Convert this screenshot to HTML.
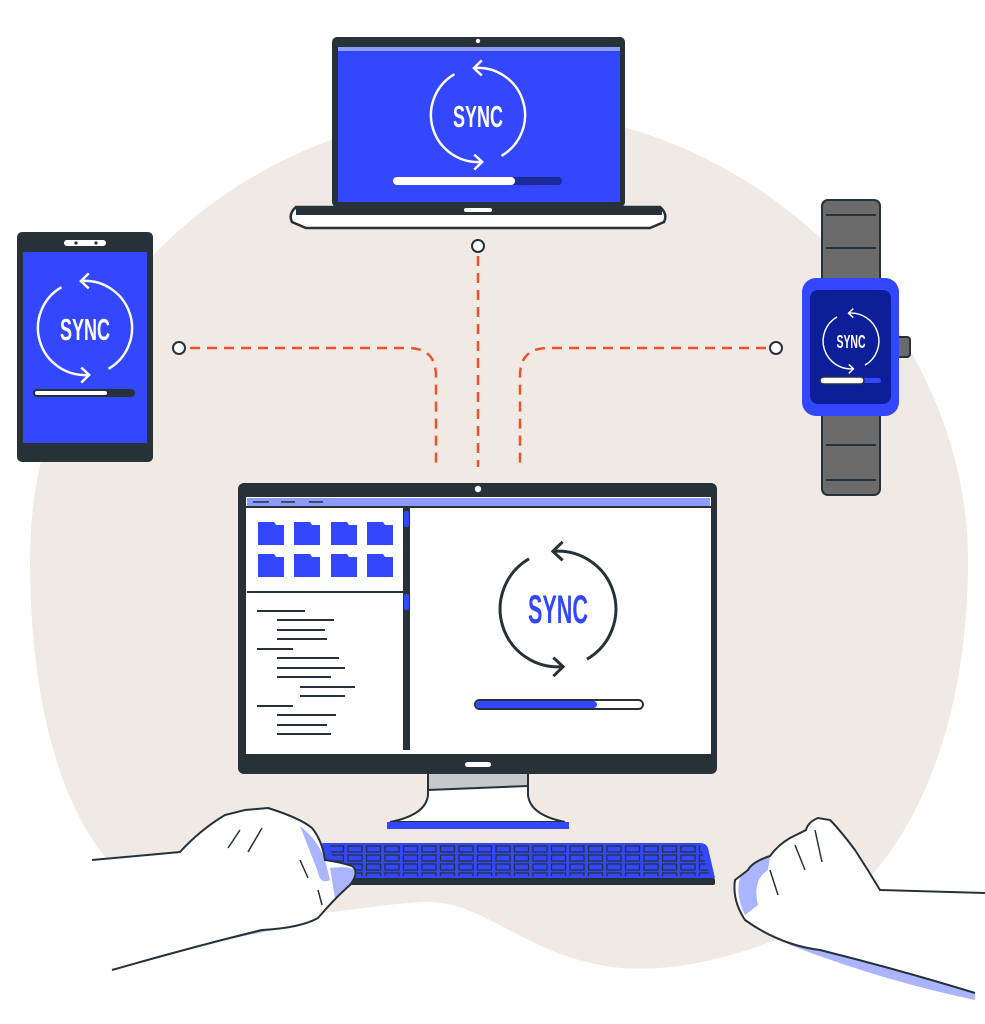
<!DOCTYPE html>
<html><head><meta charset="utf-8"><style>html,body{margin:0;padding:0;background:#fff}svg{display:block}</style></head>
<body>
<svg width="985" height="1024" viewBox="0 0 985 1024" xmlns="http://www.w3.org/2000/svg">
<defs>
<symbol id="sync" viewBox="-60 -60 120 120" overflow="visible">
<path d="M -4.4 -49.8 A 50 50 0 0 1 25 43.3" fill="none" stroke="currentColor" stroke-width="2.6"/>
<path d="M 4.4 49.8 A 50 50 0 0 1 -25 -43.3" fill="none" stroke="currentColor" stroke-width="2.6"/>
<path d="M 4 -58 L -4.4 -49.8 L 4 -42" fill="none" stroke="currentColor" stroke-width="2.6"/>
<path d="M -4 58 L 4.4 49.8 L -4 42" fill="none" stroke="currentColor" stroke-width="2.6"/>
</symbol>
<pattern id="keys" x="328" y="845" width="18.5" height="9" patternUnits="userSpaceOnUse">
<rect x="1.5" y="1" width="14" height="6" fill="#3347ff" stroke="#263238" stroke-width="1.3"/>
</pattern>
</defs>
<path d="M 30 560 C 30 300, 250 110, 500 110 C 760 110, 968 330, 968 560 C 968 760, 890 890, 800 930 C 720 965, 650 975, 600 965 C 520 950, 480 898, 420 902 C 330 908, 250 935, 160 900 C 70 860, 30 720, 30 560 Z" fill="#f0e9e4"/>
<g fill="none" stroke="#f0522c" stroke-width="2.5" stroke-dasharray="10 7">
<path d="M 190 348 L 408 348 Q 436 348 436 376 L 436 467"/>
<path d="M 478 256 L 478 467"/>
<path d="M 766 348 L 548 348 Q 520 348 520 376 L 520 467"/>
</g>
<g fill="#fff" stroke="#263238" stroke-width="2">
<circle cx="179" cy="348" r="6"/><circle cx="478" cy="246" r="6"/><circle cx="776" cy="348" r="6"/>
</g>
<!-- laptop -->
<rect x="332" y="37" width="293" height="170" rx="5" fill="#263238"/>
<rect x="338" y="47" width="282" height="155" fill="#3347ff"/>
<rect x="338" y="47" width="282" height="4" fill="#8c9cff"/>
<circle cx="478" cy="41" r="2.2" fill="#fff"/>
<path d="M 296 207 L 660 207 Q 668 214 664 222 L 650 228 L 306 228 L 292 222 Q 288 214 296 207 Z" fill="#fff" stroke="#263238" stroke-width="2.5"/>
<rect x="296" y="207" width="366" height="8" fill="#263238"/>
<rect x="464" y="208" width="28" height="4" rx="2" fill="#fff"/>
<use href="#sync" x="421.5" y="58.5" width="113" height="113" color="#fff"/>
<text x="478" y="127" text-anchor="middle" font-family="Liberation Sans Narrow, Liberation Sans, sans-serif" font-weight="bold" font-size="31" fill="#fff" textLength="50" lengthAdjust="spacingAndGlyphs">SYNC</text>
<rect x="393" y="177" width="169" height="8" rx="4" fill="#1a2a99"/>
<rect x="393" y="177" width="122" height="8" rx="4" fill="#fff"/>
<!-- phone -->
<rect x="17" y="232" width="136" height="230" rx="5" fill="#263238"/>
<rect x="23" y="252" width="124" height="191" fill="#3347ff"/>
<rect x="64" y="240" width="42" height="6" rx="3" fill="#fff"/>
<circle cx="76" cy="243" r="1.6" fill="#263238"/><circle cx="96" cy="243" r="1.6" fill="#263238"/>
<use href="#sync" x="28.5" y="271.5" width="113" height="113" color="#fff"/>
<text x="85" y="340" text-anchor="middle" font-family="Liberation Sans Narrow, Liberation Sans, sans-serif" font-weight="bold" font-size="31" fill="#fff" textLength="50" lengthAdjust="spacingAndGlyphs">SYNC</text>
<rect x="33" y="389" width="102" height="8" rx="4" fill="#263238"/>
<rect x="35" y="391" width="72" height="4" rx="2" fill="#fff"/>
<!-- watch -->
<rect x="822" y="200" width="58" height="295" rx="6" fill="#6b6b6b" stroke="#263238" stroke-width="2"/>
<g stroke="#263238" stroke-width="2"><line x1="826" y1="215" x2="876" y2="215"/><line x1="826" y1="248" x2="876" y2="248"/><line x1="826" y1="445" x2="876" y2="445"/><line x1="826" y1="480" x2="876" y2="480"/></g>
<rect x="896" y="337" width="14" height="20" rx="3" fill="#6b6b6b" stroke="#263238" stroke-width="2"/>
<rect x="802" y="278" width="97" height="138" rx="14" fill="#3347ff"/>
<rect x="810" y="290" width="81" height="114" rx="8" fill="#0d1e99"/>
<use href="#sync" x="817.5" y="307.5" width="67" height="67" color="#fff"/>
<text x="851" y="348" text-anchor="middle" font-family="Liberation Sans Narrow, Liberation Sans, sans-serif" font-weight="bold" font-size="18" fill="#fff" textLength="29" lengthAdjust="spacingAndGlyphs">SYNC</text>
<rect x="821" y="378" width="60" height="5" rx="2.5" fill="#3347ff"/>
<rect x="820" y="377" width="44" height="7" rx="3.5" fill="#fff" stroke="#263238" stroke-width="1.5"/>
<!-- monitor -->
<rect x="428" y="770" width="100" height="28" fill="#c7c8ca" stroke="#263238" stroke-width="2"/>
<path d="M 428 790 L 528 786 L 528 795 Q 530 815 565 822 L 390 822 Q 426 815 428 795 Z" fill="#fff" stroke="#263238" stroke-width="2"/>
<rect x="387" y="822" width="182" height="7" fill="#3347ff"/>
<rect x="238" y="483" width="479" height="291" rx="6" fill="#263238"/>
<rect x="246" y="497" width="465" height="257" fill="#fff"/>
<rect x="247" y="498" width="463" height="9" fill="#8c9cff"/>
<rect x="246" y="506" width="465" height="2" fill="#263238"/>
<g stroke="#263238" stroke-width="1.5"><line x1="253" y1="502" x2="269" y2="502"/><line x1="281" y1="502" x2="295" y2="502"/><line x1="309" y1="502" x2="323" y2="502"/></g>
<circle cx="478" cy="489" r="3.2" fill="#fff"/>
<rect x="465" y="762" width="26" height="5" rx="2.5" fill="#fff"/>
<rect x="403" y="508" width="7" height="242" fill="#263238"/>
<rect x="404" y="511" width="5" height="16" rx="2" fill="#3347ff"/>
<rect x="404" y="594" width="5" height="16" rx="2" fill="#3347ff"/>
<rect x="247" y="591" width="156" height="2" fill="#263238"/>
<g fill="#3347ff">
<path d="M258 522 h16 l2 3 h8 v20 h-26 z"/><path d="M294 522 h16 l2 3 h8 v20 h-26 z"/><path d="M331 522 h16 l2 3 h8 v20 h-26 z"/><path d="M367 522 h16 l2 3 h8 v20 h-26 z"/>
<path d="M258 554 h16 l2 3 h8 v20 h-26 z"/><path d="M294 554 h16 l2 3 h8 v20 h-26 z"/><path d="M331 554 h16 l2 3 h8 v20 h-26 z"/><path d="M367 554 h16 l2 3 h8 v20 h-26 z"/>
</g>
<g stroke="#263238" stroke-width="2">
<line x1="257" y1="611" x2="305" y2="611"/><line x1="277" y1="620" x2="334" y2="620"/><line x1="277" y1="630" x2="325" y2="630"/><line x1="277" y1="639" x2="327" y2="639"/>
<line x1="257" y1="649" x2="293" y2="649"/><line x1="277" y1="658" x2="339" y2="658"/><line x1="277" y1="668" x2="345" y2="668"/><line x1="277" y1="677" x2="331" y2="677"/>
<line x1="300" y1="687" x2="355" y2="687"/><line x1="300" y1="696" x2="345" y2="696"/>
<line x1="257" y1="706" x2="293" y2="706"/><line x1="277" y1="715" x2="336" y2="715"/><line x1="277" y1="725" x2="327" y2="725"/><line x1="277" y1="734" x2="331" y2="734"/>
</g>
<use href="#sync" x="488.5" y="539.5" width="139" height="139" color="#263238"/>
<text x="558" y="623" text-anchor="middle" font-family="Liberation Sans Narrow, Liberation Sans, sans-serif" font-weight="bold" font-size="40" fill="#3347ff" textLength="60" lengthAdjust="spacingAndGlyphs">SYNC</text>
<rect x="475" y="700" width="168" height="9" rx="4.5" fill="#fff" stroke="#263238" stroke-width="2"/>
<rect x="476" y="701" width="121" height="7" rx="3.5" fill="#3347ff"/>
<!-- keyboard -->
<path d="M 322 843 L 700 843 Q 706 843 708 848 L 715 878 L 330 878 Z" fill="#3347ff"/>
<path d="M 330 845 L 700 845 L 710 876 L 336 876 Z" fill="url(#keys)"/>
<rect x="330" y="878" width="385" height="7" rx="2" fill="#263238"/>
<!-- left hand -->
<path d="M 110 968 Q 190 925 250 905 Q 300 910 330 895 L 300 925 Q 240 935 110 968 Z" fill="#aab4ff"/>
<path d="M 92 860 L 180 852 Q 200 830 225 815 L 245 810 L 268 808 Q 300 818 312 828 Q 322 840 325 860 Q 340 862 352 866 Q 360 872 350 885 Q 335 898 318 918 Q 300 928 262 930 Q 200 945 112 970 L 90 975 Z" fill="#fff"/>
<path d="M 300 826 Q 318 840 325 860 L 330 880 Q 320 885 318 872 Z M 330 868 Q 352 865 356 872 Q 350 890 335 898 Z" fill="#aab4ff"/>
<path d="M 92 860 L 180 852 Q 200 830 225 815 L 245 810 L 268 808 Q 300 818 312 828 Q 322 840 325 860 Q 340 862 352 866 Q 360 872 350 885 Q 335 898 318 918 Q 300 928 262 930 Q 200 945 112 970" fill="none" stroke="#263238" stroke-width="2"/>
<g fill="none" stroke="#263238" stroke-width="1.5"><path d="M 240 830 L 228 848"/><path d="M 262 828 L 248 852"/><path d="M 300 860 L 308 878"/><path d="M 318 890 L 322 905"/></g>
<!-- right hand -->
<path d="M 750 880 Q 760 920 800 935 Q 880 960 975 992 L 975 1000 Q 880 980 790 945 Q 745 920 740 885 Z" fill="#aab4ff"/>
<path d="M 985 893 L 880 890 Q 868 870 855 850 Q 840 830 830 820 L 818 818 Q 808 822 806 830 L 790 838 Q 778 845 770 856 Q 752 862 748 870 L 735 880 Q 732 900 745 920 Q 780 945 820 950 Q 900 970 975 993 L 985 993 Z" fill="#fff"/>
<path d="M 770 856 Q 752 862 740 878 Q 735 895 745 915 L 758 905 Q 752 880 768 870 Z" fill="#aab4ff"/>
<path d="M 985 893 L 880 890 Q 868 870 855 850 Q 840 830 830 820 L 818 818 Q 808 822 806 830 L 790 838 Q 778 845 770 856 Q 752 862 748 870 L 735 880 Q 732 900 745 920 Q 780 945 820 950 Q 900 970 975 993" fill="none" stroke="#263238" stroke-width="2"/>
<g fill="none" stroke="#263238" stroke-width="1.5"><path d="M 815 830 L 822 862"/><path d="M 795 845 L 805 870"/><path d="M 770 870 L 778 895"/></g>
</svg>
</body></html>
